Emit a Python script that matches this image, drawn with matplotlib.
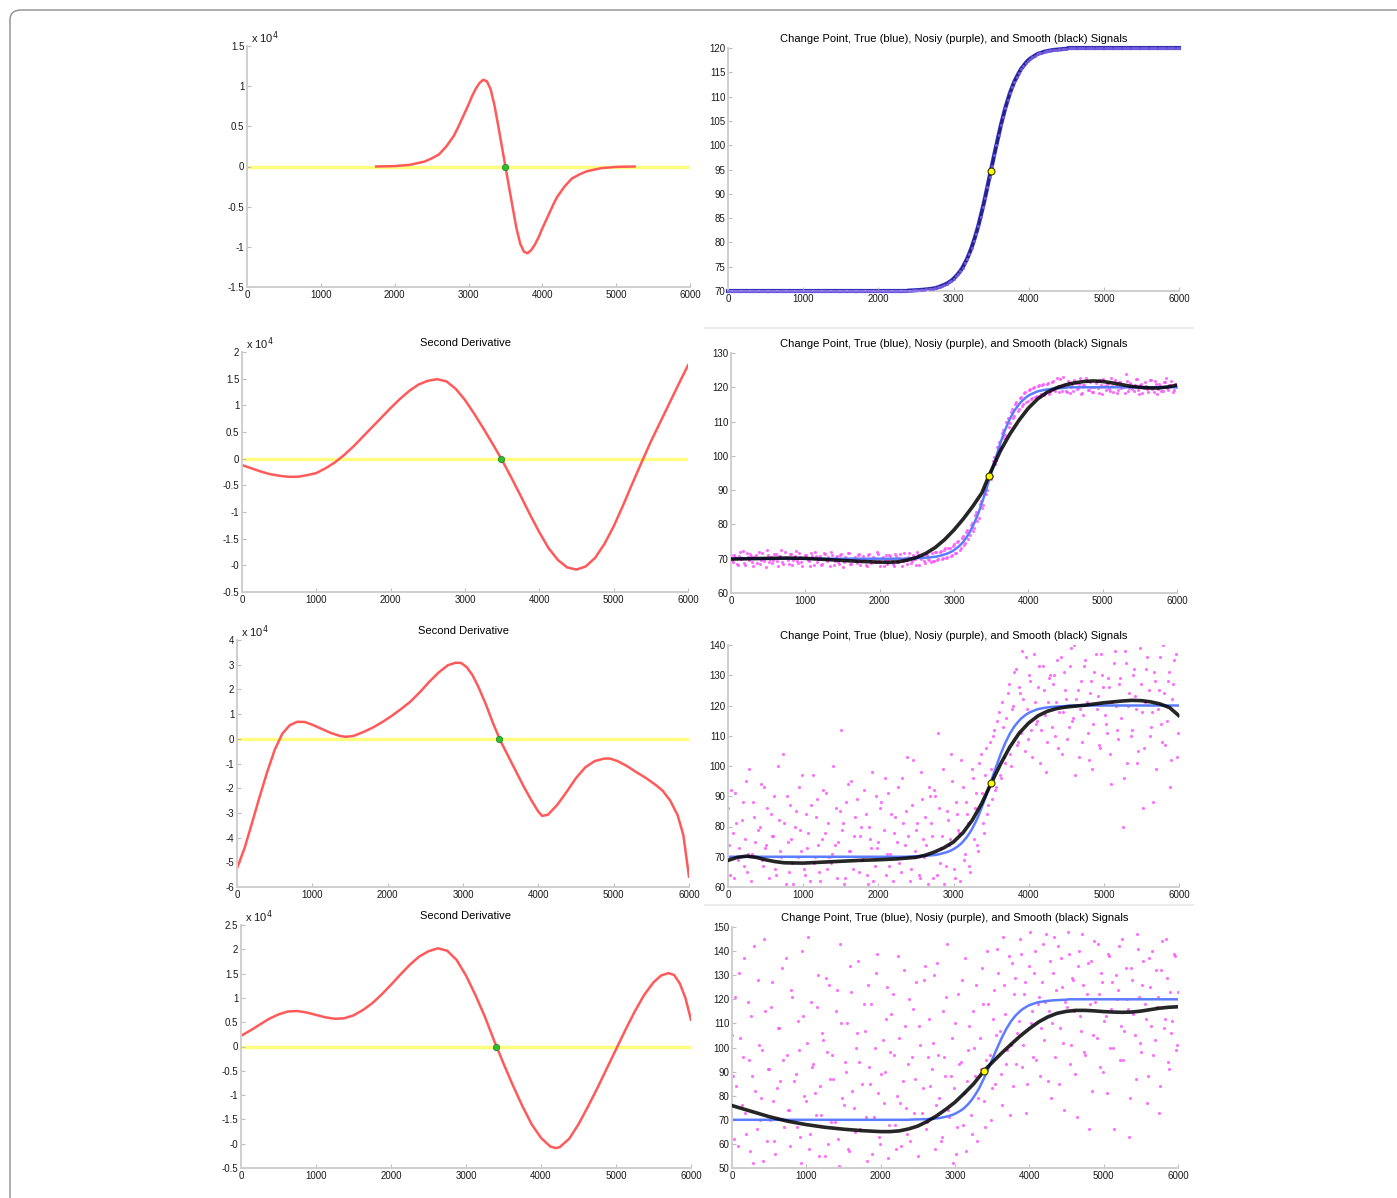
#!/usr/bin/env python3
# -*- coding: utf-8 -*-

import numpy as np
import matplotlib
matplotlib.use('Agg')
import matplotlib.pyplot as plt
from matplotlib.patches import FancyBboxPatch
from matplotlib.lines import Line2D

W, H = 1397, 1198

############## data ##############
# sample grids of the signals (two interleaved sets of samples)
grid_a = np.arange(0, 6001, 30)
grid_b = np.arange(15, 6000, 30)

# true (blue) sigmoid, 70 -> 120, change point around 3500 (on grid_a)
true_y = ([70.0] * 80
          + [70.08, 70.1, 70.12, 70.14, 70.17, 70.2, 70.24, 70.29, 70.33, 70.39]
          + [70.45, 70.5, 70.6, 70.75, 70.9, 71.1, 71.3, 71.5, 71.8, 72.1,
             72.5, 73.0, 73.5, 74.1, 74.8, 75.7, 76.6, 77.7, 78.9, 80.3,
             81.8, 83.4, 85.3, 87.2, 89.2, 91.4, 93.5, 95.7, 97.9, 100.0,
             102.2, 104.1, 105.9, 107.7, 109.2, 110.7, 111.9, 113.1, 114.0, 114.9,
             115.7, 116.3, 116.9, 117.4, 117.8, 118.1, 118.4, 118.7, 118.9, 119.0,
             119.2, 119.3, 119.4, 119.5]
          + [119.57, 119.63, 119.68, 119.72, 119.76, 119.8, 119.83]
          + [120.0] * 50)

# noisy (purple) samples, rows 2-4 (row 1 is noise free). *_a on grid_a, *_b on grid_b
noisy_2a = [71.2, 68.9, 70.4, 68.3, 72.1, 70.3, 68.8, 71.6, 69.5, 70.9,
            67.9, 71.1, 70.2, 68.6, 71.8, 69.3, 72.4, 68.9, 70.6, 69.7,
            71.4, 68.0, 70.8, 69.1, 71.9, 70.1, 68.4, 71.3, 69.6, 72.2,
            68.7, 70.5, 67.8, 71.0, 70.3, 69.2, 71.7, 68.2, 70.7, 69.8,
            70.9, 68.5, 71.5, 69.4, 70.0, 72.0, 68.1, 70.6, 69.0, 71.2,
            67.7, 70.4, 69.5, 71.6, 68.6, 70.1, 69.3, 71.0, 68.3, 70.8,
            69.9, 67.9, 71.3, 68.8, 70.2, 69.1, 71.4, 68.0, 70.5, 69.6,
            68.4, 71.1, 69.7, 67.8, 70.9, 68.9, 71.5, 69.2, 70.3, 68.5,
            71.8, 69.4, 70.0, 68.2, 71.2, 69.8, 70.6, 68.7, 71.0, 69.5,
            71.6, 69.3, 72.0, 69.8, 72.3, 70.2, 73.0, 70.4, 73.1, 71.0,
            74.2, 71.8, 75.1, 73.2, 76.6, 74.5, 78.3, 76.9, 80.4, 79.1,
            83.5, 82.0, 86.9, 85.8, 90.7, 90.0, 95.2, 94.1, 99.6, 98.7,
            103.9, 102.6, 107.5, 106.2, 110.9, 109.5, 113.6, 111.7, 115.8, 113.8,
            117.3, 115.0, 118.6, 116.1, 119.5, 116.9, 120.2, 117.5, 120.8, 117.9,
            121.0, 118.2, 121.3, 118.6,
            121.4, 119.2, 122.6, 118.7, 120.5, 123.1, 119.0, 121.7, 118.3, 120.9,
            122.2, 119.5, 121.0, 117.9, 120.6, 122.8, 119.3, 121.5, 118.6, 120.2,
            121.9, 118.4, 120.7, 122.4, 119.1, 121.2, 118.9, 120.4, 122.0, 118.2,
            121.6, 119.7, 120.1, 123.9, 118.8, 121.3, 119.4, 120.8, 122.5, 118.1,
            121.1, 119.8, 120.3, 118.5, 122.1, 119.6, 121.8, 118.0, 120.9, 119.0,
            121.4, 122.7, 119.3, 120.6, 118.7, 121.0, 120.2]
noisy_2b = [69.4, 71.0, 68.6, 70.7, 69.9, 72.3, 68.2, 70.4, 71.3, 69.0,
            70.6, 68.8, 71.9, 69.7, 70.2, 67.6, 71.2, 70.0, 68.7, 71.5,
            69.3, 70.9, 72.5, 68.5, 70.1, 69.6, 71.4, 68.1, 70.8, 69.2,
            71.7, 68.9, 70.3, 71.1, 69.5, 68.0, 70.7, 72.1, 69.1, 70.5,
            68.3, 71.6, 69.8, 70.4, 67.9, 71.0, 69.4, 70.9, 68.6, 71.3,
            69.0, 70.2, 71.8, 68.4, 69.9, 70.6, 68.8, 71.5, 69.3, 70.0,
            68.1, 71.2, 69.7, 70.5, 68.9, 71.9, 69.2, 70.3, 68.0, 71.1,
            69.6, 70.8, 68.5, 71.4, 69.1, 70.1, 67.8, 71.7, 69.5, 70.4,
            68.7, 71.0, 69.9, 72.0, 68.3, 70.7, 69.4, 71.3, 70.0, 68.9,
            69.2, 71.9, 69.6, 72.1, 69.9, 72.6, 70.3, 73.0, 70.8, 73.7,
            71.6, 74.8, 72.5, 76.0, 73.9, 77.8, 75.7, 79.9, 78.2, 82.7,
            81.1, 86.0, 84.8, 89.8, 88.9, 94.0, 93.2, 98.4, 97.5, 102.7,
            101.7, 106.6, 105.3, 110.0, 108.5, 112.9, 111.0, 115.2, 113.0, 116.9,
            114.6, 118.2, 115.7, 119.2, 116.5, 119.9, 117.1, 120.4, 117.4, 120.7,
            117.8, 121.0, 118.0,
            119.6, 121.8, 118.9, 120.3, 122.3, 119.0, 120.8, 118.5, 121.5, 120.0,
            118.8, 121.2, 119.9, 122.6, 118.3, 120.6, 121.7, 119.2, 120.1, 118.6,
            121.3, 119.7, 122.1, 118.1, 120.4, 121.0, 119.4, 122.8, 118.7, 120.9,
            119.1, 121.6, 120.2, 118.4, 121.9, 119.8, 120.5, 118.9, 122.4, 119.3,
            120.7, 118.2, 121.4, 119.5, 120.0, 122.0, 118.6, 121.1, 119.6, 120.3,
            118.8, 121.5, 119.9, 120.8, 121.7, 119.2, 120.4]

noisy_3a = [86, 64, 78, 91, 59, 73, 82, 67, 95, 71,
            62, 88, 75, 57, 80, 69, 93, 74, 63, 84,
            77, 66, 100, 72, 58, 81, 90, 65, 76, 61,
            85, 70, 79, 97, 64, 73, 55, 87, 68, 83,
            74, 62, 92, 78, 66, 70, 71, 60, 86, 75,
            112, 81, 63, 94, 72, 58, 77, 89, 65, 80,
            70, 84, 61, 76, 98, 67, 73, 56, 88, 79,
            64, 91, 71, 62, 83, 75, 68, 96, 60, 85,
            77, 66, 102, 72, 81, 63, 89, 70, 74, 93,
            81, 63, 90, 111, 68, 77, 61, 85, 74, 104,
            66, 88, 79, 62, 93, 71, 84, 67, 99, 76,
            91, 72, 104, 81, 97, 84, 108, 89, 112, 93,
            118, 96, 113, 101, 124, 104, 119, 131, 107, 126,
            111, 122, 136, 109, 128, 103, 121, 115, 133, 112,
            125, 98, 121, 130,
            127, 110, 135, 118, 104, 131, 122, 113, 139, 116,
            97, 125, 119, 108, 133, 121, 102, 128, 114, 137,
            123, 106, 130, 117, 111, 126, 94, 134, 120, 109,
            129, 80, 138, 101, 124, 112, 132, 119, 105, 127,
            86, 121, 136, 110, 118, 131, 99, 125, 114, 140,
            107, 128, 93, 122, 135, 103, 117]
noisy_3b = [74, 92, 63, 81, 69, 57, 88, 76, 65, 99,
            71, 83, 60, 79, 94, 67, 73, 86, 58, 77,
            90, 64, 82, 70, 104, 61, 75, 87, 68, 80,
            59, 93, 72, 66, 84, 78, 62, 97, 70, 89,
            65, 76, 57, 91, 81, 68, 100, 74, 63, 85,
            79, 61, 88, 72, 95, 66, 83, 59, 77, 69,
            92, 64, 80, 73, 62, 90, 75, 86, 60, 96,
            71, 67, 84, 78, 58, 93, 65, 81, 74, 103,
            62, 87, 70, 79, 64, 98, 76, 83, 61, 90,
            77, 92, 64, 86, 73, 99, 67, 82, 76, 95,
            63, 84, 78, 102, 69, 88, 81, 65, 96, 86,
            74, 101, 91, 78, 106, 87, 99, 110, 92, 115,
            97, 121, 103, 116, 127, 100, 120, 132, 108, 124,
            138, 105, 119, 130, 112, 137, 114, 126, 101, 133,
            117, 108, 129,
            113, 130, 121, 106, 136, 118, 125, 109, 133, 115,
            140, 122, 103, 128, 117, 135, 111, 124, 99, 131,
            119, 107, 137, 126, 114, 129, 104, 121, 138, 112,
            127, 116, 96, 134, 120, 110, 130, 123, 101, 139,
            118, 106, 132, 125, 113, 88, 128, 119, 136, 108,
            124, 115, 131, 102, 127, 137, 111]

noisy_4a = [105, 62, 84, 131, 48, 96, 73, 119, 57, 88,
            142, 66, 101, 79, 53, 115, 91, 70, 127, 61,
            83, 108, 44, 95, 137, 74, 59, 121, 86, 67,
            99, 52, 113, 78, 146, 64, 92, 81, 117, 55,
            72, 103, 129, 60, 87, 97, 69, 124, 51, 110,
            76, 90, 58, 134, 82, 65, 106, 94, 47, 118,
            71, 126, 85, 56, 100, 139, 63, 89, 77, 112,
            54, 98, 122, 68, 80, 104, 59, 132, 75, 93,
            61, 116, 87, 50, 109, 73, 128, 66, 96, 84,
            102, 58, 135, 79, 63, 96, 121, 74, 88, 52,
            110, 67, 93, 128, 81, 57, 99, 72, 115, 88,
            61, 104, 133, 78, 95, 118, 70, 112, 85, 141,
            107, 76, 126, 93, 138, 101, 84, 129, 106, 145,
            92, 122, 73, 134, 110, 96, 140, 118, 88, 127,
            103, 147, 115, 79,
            131, 96, 142, 108, 125, 74, 117, 139, 101, 128,
            89, 134, 113, 147, 98, 122, 66, 136, 105, 119,
            143, 92, 127, 111, 81, 138, 116, 100, 130, 124,
            95, 145, 107, 120, 63, 133, 114, 87, 141, 102,
            126, 118, 77, 137, 109, 97, 132, 121, 84, 144,
            112, 129, 91, 106, 139, 99, 123]
noisy_4b = [88, 121, 59, 104, 76, 137, 64, 95, 113, 52,
            82, 128, 70, 99, 145, 61, 91, 117, 78, 56,
            108, 86, 133, 67, 97, 74, 124, 50, 89, 111,
            63, 140, 80, 102, 58, 119, 93, 72, 130, 84,
            106, 55, 98, 126, 69, 87, 115, 62, 143, 79,
            94, 110, 57, 123, 75, 100, 136, 66, 85, 107,
            53, 92, 118, 71, 131, 81, 60, 103, 90, 125,
            68, 114, 97, 58, 138, 77, 86, 109, 64, 120,
            96, 73, 127, 55, 101, 83, 134, 69, 112, 91,
            130, 76, 97, 61, 115, 88, 143, 71, 104, 83,
            56, 122, 94, 68, 137, 86, 109, 64, 100, 126,
            79, 91, 118, 67, 140, 97, 83, 124, 105, 131,
            89, 146, 114, 99, 72, 135, 122, 93, 111, 139,
            101, 127, 85, 148, 115, 131, 95, 121, 108, 143,
            119, 86, 136,
            110, 146, 124, 85, 137, 102, 119, 148, 93, 129,
            115, 71, 140, 107, 126, 97, 135, 118, 82, 144,
            104, 122, 131, 90, 113, 139, 100, 127, 66, 120,
            142, 109, 95, 133, 116, 79, 128, 105, 147, 121,
            98, 136, 112, 88, 125, 140, 103, 117, 73, 132,
            108, 145, 94, 123, 111, 138, 101]

# smoothed (black) signals
smooth_x_2 = [0, 250, 500, 750, 1000, 1250, 1500, 1750, 2000, 2125, 2250, 2375, 2500, 2625,
              2750, 2875, 3000, 3125, 3250, 3375, 3470, 3625, 3750, 3875, 4000, 4125, 4250,
              4375, 4500, 4625, 4750, 4875, 5000, 5125, 5250, 5375, 5500, 5625, 5750, 5875, 6000]
smooth_y_2 = [69.9, 70.0, 70.1, 70.2, 70.1, 69.8, 69.5, 69.2, 69.0, 68.95, 69.1, 69.6, 70.4, 71.6,
              73.3, 75.6, 78.4, 81.6, 85.2, 89.2, 94.2, 101.5, 106.3, 110.4, 113.9, 116.6, 118.5,
              119.8, 120.7, 121.3, 121.7, 121.85, 121.7, 121.3, 120.8, 120.3, 120.0, 119.8, 119.8,
              120.1, 120.6]
smooth_x_3 = [0, 125, 250, 375, 500, 625, 750, 1000, 1250, 1500, 1750, 2000, 2250, 2500, 2625,
              2750, 2875, 3000, 3125, 3250, 3375, 3500, 3625, 3750, 3875, 4000, 4125, 4250, 4375,
              4500, 4750, 5000, 5250, 5375, 5500, 5625, 5750, 5875, 6000]
smooth_y_3 = [68.8, 69.8, 70.2, 69.8, 69.0, 68.4, 68.0, 67.9, 68.2, 68.5, 68.8, 69.0, 69.3, 69.8,
              70.5, 71.6, 73.0, 74.9, 77.9, 82.1, 87.6, 94.2, 100.6, 106.3, 110.9, 114.2, 116.6,
              118.1, 119.0, 119.5, 120.1, 120.9, 121.5, 121.7, 121.6, 121.2, 120.5, 119.3, 116.6]
smooth_x_4 = [0, 250, 500, 750, 1000, 1250, 1500, 1750, 2000, 2125, 2250, 2375, 2500, 2625, 2750,
              2875, 3000, 3125, 3250, 3390, 3500, 3625, 3750, 3875, 4000, 4125, 4250, 4375, 4500,
              4625, 4750, 4875, 5000, 5125, 5250, 5375, 5500, 5625, 5750, 5875, 6000]
smooth_y_4 = [75.9, 73.6, 71.3, 69.4, 68.0, 66.9, 66.1, 65.5, 65.1, 65.1, 65.4, 66.2, 67.4, 69.3,
              71.6, 74.3, 77.3, 81.0, 84.9, 90.3, 93.8, 97.6, 101.2, 104.7, 107.8, 110.6, 112.7,
              114.2, 115.0, 115.4, 115.4, 115.2, 114.9, 114.7, 114.6, 114.7, 115.1, 115.7, 116.3,
              116.7, 116.9]

# change points (yellow) on the right panels
cp_x = [3500, 3470, 3500, 3390]
cp_y = [94.7, 94.2, 94.5, 90.3]

# second derivatives (x 10^4) on the left panels
d2_x_1 = [1750, 2000, 2200, 2300, 2400, 2500, 2600, 2700, 2800, 2850, 2900, 2950, 3000, 3050,
          3100, 3150, 3200, 3250, 3300, 3350, 3400, 3450, 3500, 3550, 3600, 3650, 3700, 3750,
          3800, 3850, 3900, 3950, 4000, 4050, 4100, 4150, 4200, 4300, 4400, 4500, 4600, 4700,
          4800, 5000, 5250]
d2_y_1 = [0.0, 0.005, 0.02, 0.04, 0.06, 0.1, 0.15, 0.25, 0.38, 0.47, 0.57, 0.67, 0.77, 0.88,
          0.97, 1.04, 1.08, 1.06, 0.96, 0.77, 0.52, 0.26, 0.0, -0.26, -0.52, -0.77, -0.96, -1.06,
          -1.08, -1.04, -0.97, -0.88, -0.77, -0.67, -0.57, -0.47, -0.38, -0.25, -0.15, -0.1,
          -0.06, -0.04, -0.02, -0.005, 0.0]
d2_x_2 = [0, 125, 250, 375, 500, 625, 750, 875, 1000, 1125, 1250, 1375, 1500, 1625, 1750, 1875,
          2000, 2125, 2250, 2375, 2500, 2625, 2750, 2875, 3000, 3125, 3250, 3375, 3500, 3625,
          3750, 3875, 4000, 4125, 4250, 4375, 4500, 4625, 4750, 4875, 5000, 5125, 5250, 5375,
          5500, 5625, 5750, 5875, 6000]
d2_y_2 = [-0.12, -0.18, -0.24, -0.29, -0.32, -0.34, -0.34, -0.31, -0.27, -0.18, -0.07, 0.07,
          0.23, 0.41, 0.59, 0.77, 0.95, 1.12, 1.27, 1.39, 1.46, 1.49, 1.45, 1.31, 1.1, 0.84,
          0.56, 0.27, -0.03, -0.36, -0.70, -1.05, -1.38, -1.68, -1.9, -2.04, -2.08, -2.02, -1.86,
          -1.6, -1.27, -0.88, -0.47, -0.07, 0.32, 0.68, 1.04, 1.4, 1.75]
d2_x_3 = [0, 100, 200, 300, 400, 500, 600, 700, 800, 900, 1000, 1125, 1250, 1375, 1450, 1550,
          1675, 1800, 1925, 2050, 2175, 2300, 2425, 2550, 2675, 2800, 2900, 2975, 3050, 3125,
          3200, 3300, 3400, 3500, 3600, 3700, 3800, 3900, 4000, 4050, 4125, 4250, 4375, 4500,
          4625, 4750, 4875, 4950, 5050, 5175, 5300, 5425, 5550, 5650, 5750, 5850, 5925, 6000]
d2_y_3 = [-5.24, -4.43, -3.4, -2.35, -1.35, -0.45, 0.2, 0.55, 0.69, 0.68, 0.57, 0.4, 0.23, 0.11,
          0.08, 0.12, 0.27, 0.45, 0.67, 0.92, 1.2, 1.5, 1.88, 2.3, 2.68, 2.98, 3.08, 3.07, 2.9,
          2.58, 2.13, 1.42, 0.62, -0.1, -0.7, -1.3, -1.9, -2.45, -2.95, -3.12, -3.08, -2.68,
          -2.15, -1.59, -1.15, -0.9, -0.8, -0.8, -0.9, -1.1, -1.35, -1.58, -1.85, -2.1, -2.5,
          -3.1, -3.9, -5.58]
d2_x_4 = [0, 125, 250, 375, 500, 625, 750, 875, 1000, 1125, 1250, 1375, 1500, 1625, 1750, 1875,
          2000, 2125, 2250, 2375, 2500, 2625, 2750, 2875, 3000, 3125, 3250, 3375, 3500, 3625,
          3750, 3875, 4000, 4125, 4200, 4250, 4375, 4500, 4625, 4750, 4875, 5000, 5125, 5250,
          5375, 5500, 5600, 5700, 5775, 5850, 5925, 6000]
d2_y_4 = [0.22, 0.33, 0.45, 0.57, 0.66, 0.72, 0.73, 0.7, 0.65, 0.6, 0.57, 0.58, 0.64, 0.75,
          0.89, 1.07, 1.27, 1.48, 1.68, 1.85, 1.96, 2.02, 1.97, 1.78, 1.46, 1.06, 0.62, 0.12,
          -0.35, -0.8, -1.22, -1.6, -1.88, -2.06, -2.09, -2.07, -1.9, -1.6, -1.24, -0.86, -0.46,
          -0.06, 0.34, 0.72, 1.06, 1.32, 1.46, 1.51, 1.47, 1.3, 1.0, 0.55]

# zero crossing (green) on the left panels
zc_x = [3500, 3480, 3480, 3400]

# axis ticks and labels (the labels are copied as printed, even the odd ones)
left_yticks = [
    [-1.5, -1, -0.5, 0, 0.5, 1, 1.5],
    [-2.5, -2, -1.5, -1, -0.5, 0, 0.5, 1, 1.5, 2],
    [-6, -5, -4, -3, -2, -1, 0, 1, 2, 3, 4],
    [-2.5, -2, -1.5, -1, -0.5, 0, 0.5, 1, 1.5, 2, 2.5],
]
left_ylabels = [
    ['-1.5', '-1', '-0.5', '0', '0.5', '1', '1.5'],
    ['-0.5', '-0', '-1.5', '-1', '-0.5', '0', '0.5', '1', '1.5', '2'],
    ['-6', '-5', '-4', '-3', '-2', '-1', '0', '1', '2', '3', '4'],
    ['-0.5', '-0', '-1.5', '-1', '-0.5', '0', '0.5', '1', '1.5', '2', '2.5'],
]
right_yticks = [list(range(70, 121, 5)), list(range(60, 131, 10)),
                list(range(60, 141, 10)), list(range(50, 151, 10))]
left_titles = ['', 'Second Derivative', 'Second Derivative', 'Second Derivative']
right_title = 'Change Point, True (blue), Nosiy (purple), and Smooth (black) Signals'

# axes boxes in pixels: (left, right, top, bottom)
left_boxes = [(247, 690, 46, 287), (242, 688, 352, 592), (237, 689, 640, 887), (241, 691, 925, 1168)]
right_boxes = [(728, 1179, 48, 291), (731, 1177, 353, 593), (728, 1179, 645, 887), (732, 1178, 927, 1168)]
#############################################


def add_axes(fig, box):
    x0, x1, y0, y1 = box
    return fig.add_axes([x0 / W, 1 - y1 / H, (x1 - x0) / W, (y1 - y0) / H])


def style(ax):
    for sp in ['top', 'right']:
        ax.spines[sp].set_visible(False)
    for sp in ['left', 'bottom']:
        ax.spines[sp].set_color('#cfcfcf')
        ax.spines[sp].set_linewidth(1.4)
    ax.tick_params(direction='in', length=3, width=0.8, color='#bdbdbd',
                   labelsize=7, pad=2, labelcolor='#1a1a1a')
    ax.set_xlim(0, 6000)
    ax.set_xticks(range(0, 6001, 1000))


def main():
    plt.rcParams['font.family'] = ['Liberation Sans', 'DejaVu Sans']
    fig = plt.figure(figsize=(W / 100, H / 100), dpi=100)

    # outer frame (only the top-left corner is inside the picture)
    fig.patches.append(FancyBboxPatch((10 / W, -0.05), 1.1, 1 - 10 / H + 0.05,
                                      boxstyle='round,pad=0,rounding_size=0.008',
                                      transform=fig.transFigure, fill=False,
                                      edgecolor='#8c8c8c', linewidth=1.0))
    for yy in [328, 905]:
        fig.add_artist(Line2D([705 / W, 1193 / W], [1 - yy / H, 1 - yy / H],
                              transform=fig.transFigure, color='#ececec', linewidth=1.5))

    d2_x = [d2_x_1, d2_x_2, d2_x_3, d2_x_4]
    d2_y = [d2_y_1, d2_y_2, d2_y_3, d2_y_4]
    noisy_a = [true_y, noisy_2a, noisy_3a, noisy_4a]
    noisy_b = [None, noisy_2b, noisy_3b, noisy_4b]
    smooth_x = [grid_a, smooth_x_2, smooth_x_3, smooth_x_4]
    smooth_y = [true_y, smooth_y_2, smooth_y_3, smooth_y_4]

    for i in range(4):
        # left: second derivative
        ax = add_axes(fig, left_boxes[i])
        style(ax)
        ax.plot([0, 6000], [0, 0], color='#ffff80', linewidth=2.5, zorder=1)
        ax.plot(d2_x[i], d2_y[i], color='#ff5a5a', linewidth=1.8, zorder=2)
        ax.plot([zc_x[i]], [0], 'o', markersize=4.5, markerfacecolor='#33bb33',
                markeredgecolor='#228822', markeredgewidth=0.6, zorder=3)
        ax.set_ylim(left_yticks[i][0], left_yticks[i][-1])
        ax.set_yticks(left_yticks[i])
        ax.set_yticklabels(left_ylabels[i])
        ax.text(0.008, 1.0, r'x 10$^4$', transform=ax.transAxes, fontsize=8,
                va='bottom', ha='left', color='#1a1a1a')
        if left_titles[i]:
            ax.set_title(left_titles[i], fontsize=8, pad=4)

        # right: true / noisy / smooth signals
        ax = add_axes(fig, right_boxes[i])
        style(ax)
        if i == 0:
            # noise free: the purple samples sit right on the lines
            ax.plot(grid_a, true_y, color='#3b3bd6', linewidth=3.0, clip_on=False, zorder=1)
            ax.plot(smooth_x[i], smooth_y[i], color='#101040', linewidth=2.0, alpha=0.55,
                    clip_on=False, zorder=2)
            ax.scatter(grid_a, noisy_a[i], s=5, color='#7f62ea', alpha=0.85, linewidths=0,
                       clip_on=False, zorder=3)
        else:
            ax.scatter(grid_a, noisy_a[i], s=5, color='#ff55ff', alpha=0.85,
                       linewidths=0, zorder=1)
            ax.scatter(grid_b, noisy_b[i], s=5, color='#ff55ff', alpha=0.85,
                       linewidths=0, zorder=1)
            ax.plot(grid_a, true_y, color='#5b7cff', linewidth=1.8, zorder=2)
            ax.plot(smooth_x[i], smooth_y[i], color='#000000', linewidth=2.6, alpha=0.85,
                    zorder=3)
        ax.plot([cp_x[i]], [cp_y[i]], 'o', markersize=5, markerfacecolor='#ffff00',
                markeredgecolor='#333300', markeredgewidth=0.8, zorder=4, clip_on=False)
        ax.set_ylim(right_yticks[i][0], right_yticks[i][-1])
        ax.set_yticks(right_yticks[i])
        ax.set_title(right_title, fontsize=8, pad=4)

    fig.savefig('out.png', dpi=100)


if __name__ == '__main__':
    main()
